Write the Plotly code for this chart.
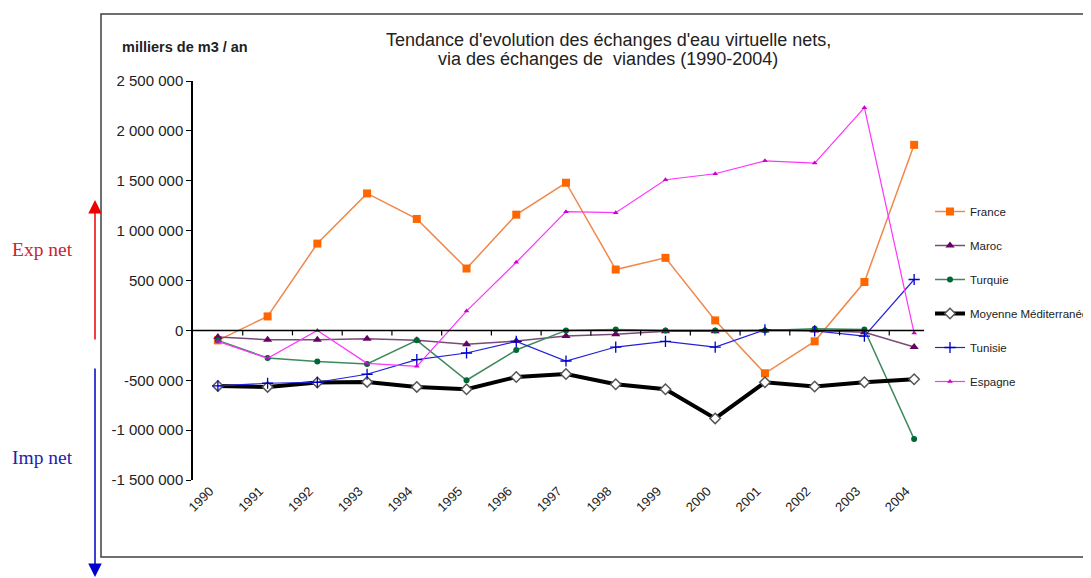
import plotly.graph_objects as go

years = ["1990", "1991", "1992", "1993", "1994", "1995", "1996", "1997",
         "1998", "1999", "2000", "2001", "2002", "2003", "2004"]

france = [-100000, 140000, 870000, 1373000, 1117000, 620000, 1160000, 1480000,
          610000, 727000, 100000, -430000, -110000, 485000, 1860000]
maroc = [-67000, -93000, -93000, -83000, -100000, -140000, -107000, -57000,
         -40000, -10000, -10000, 0, 0, -20000, -167000]
turquie = [-100000, -277000, -313000, -337000, -100000, -500000, -197000, 0,
           10000, 0, 0, 0, 17000, 10000, -1090000]
moyenne = [-557000, -567000, -523000, -517000, -567000, -590000, -467000, -437000,
           -540000, -590000, -883000, -520000, -563000, -520000, -490000]
tunisie = [-557000, -530000, -520000, -440000, -293000, -227000, -110000, -307000,
           -167000, -110000, -167000, 5000, -5000, -57000, 510000]
espagne = [-110000, -280000, 0, -330000, -360000, 193000, 683000, 1190000,
           1180000, 1510000, 1570000, 1700000, 1677000, 2233000, -27000]

ytick_vals = [2500000, 2000000, 1500000, 1000000, 500000, 0, -500000, -1000000, -1500000]
ytick_text = ["2 500 000", "2 000 000", "1 500 000", "1 000 000", "500 000", "0",
              "-500 000", "-1 000 000", "-1 500 000"]

W, H = 1091, 578
OFF = 8  # page body margin of the browser
# plot area in screen pixels (as in the reference)
SL, SR, ST, SB = 193, 939, 81, 480
L, R, T, B = SL - OFF, SR - OFF, ST - OFF, SB - OFF


def px(xs):
    return (xs - OFF - L) / (R - L)


def py(ys):
    return (B - (ys - OFF)) / (B - T)


FONT = "Liberation Sans, Arial, sans-serif"
SERIF = "Liberation Serif, Times New Roman, serif"
xs = list(range(len(years)))

fig = go.Figure()

series = [
    ("France", france, dict(color="#F0884C", width=1.5),
     dict(symbol="square", size=8, color="#FF6600")),
    ("Maroc", maroc, dict(color="#7A4A7A", width=1.5),
     dict(symbol="triangle-up", size=8, color="#660066")),
    ("Turquie", turquie, dict(color="#3D8A5C", width=1.5),
     dict(symbol="circle", size=6, color="#006633")),
    ("Moyenne Méditerranée", moyenne, dict(color="#000000", width=4),
     dict(symbol="diamond", size=8, color="#FFFFFF", line=dict(color="#555555", width=1.5))),
    ("Tunisie", tunisie, dict(color="#2222DD", width=1.2),
     dict(symbol="cross-thin", size=8, color="#0000CC", line=dict(color="#0000CC", width=1.3))),
    ("Espagne", espagne, dict(color="#FF33FF", width=1.2),
     dict(symbol="triangle-up", size=5, color="#CC00CC")),
]

for i, (name, vals, line, marker) in enumerate(series):
    fig.add_trace(go.Scatter(
        x=xs, y=vals, name=name, mode="lines+markers",
        line=line, marker=marker, legendgroup=str(i), cliponaxis=False,
    ))

shapes = []
# frame
shapes.append(dict(type="rect", xref="paper", yref="paper",
                   x0=px(101), x1=px(1110), y0=py(557), y1=py(14),
                   line=dict(color="#404040", width=1.5), layer="below"))
# zero category axis
shapes.append(dict(type="line", xref="x", yref="y", x0=-0.5, x1=14.2, y0=0, y1=0,
                   line=dict(color="#000000", width=1.5)))
for k in range(1, 15):
    shapes.append(dict(type="line", xref="x", yref="y", ysizemode="pixel", yanchor=0,
                       x0=k - 0.5, x1=k - 0.5, y0=0, y1=-5,
                       line=dict(color="#000000", width=1.2)))

annotations = [
    dict(text="Tendance d'evolution des échanges d'eau virtuelle nets,",
         xref="paper", yref="paper", x=px(608), y=py(40), showarrow=False,
         xanchor="center", yanchor="middle",
         font=dict(family=FONT, size=18, color="#222222")),
    dict(text="via des échanges de  viandes (1990-2004)",
         xref="paper", yref="paper", x=px(608), y=py(59), showarrow=False,
         xanchor="center", yanchor="middle",
         font=dict(family=FONT, size=18, color="#222222")),
    dict(text="<b>milliers de m3 / an</b>",
         xref="paper", yref="paper", x=px(120), y=py(47), showarrow=False,
         xanchor="left", yanchor="middle",
         font=dict(family=FONT, size=14.5, color="#222222")),
    dict(text="Exp net", xref="paper", yref="paper", x=px(10), y=py(249),
         showarrow=False, xanchor="left", yanchor="middle",
         font=dict(family=SERIF, size=19.5, color="#CC2233")),
    dict(text="Imp net", xref="paper", yref="paper", x=px(10), y=py(457),
         showarrow=False, xanchor="left", yanchor="middle",
         font=dict(family=SERIF, size=19.5, color="#2222AA")),
    dict(text="", xref="paper", yref="paper", x=px(95), y=py(200),
         ax=0, ay=141, showarrow=True, arrowhead=2, arrowsize=1.8,
         arrowwidth=1.5, arrowcolor="#EE0000"),
    dict(text="", xref="paper", yref="paper", x=px(95), y=py(577),
         ax=0, ay=-210, showarrow=True, arrowhead=2, arrowsize=1.8,
         arrowwidth=1.5, arrowcolor="#0000CC"),
]

fig.update_layout(
    width=W, height=H,
    margin=dict(l=L, r=W - R, t=T, b=H - B, pad=0, autoexpand=False),
    paper_bgcolor="white", plot_bgcolor="white",
    font=dict(family=FONT, color="#222222"),
    showlegend=True,
    legend=dict(xref="paper", yref="paper", x=px(930), y=py(197),
                xanchor="left", yanchor="top", tracegroupgap=15,
                itemwidth=30, font=dict(family=FONT, size=11.5, color="#222222"),
                bgcolor="rgba(0,0,0,0)"),
    xaxis=dict(range=[-0.5, 14.5], tickmode="array", tickvals=xs, ticktext=years,
               tickangle=-45, showline=False, showgrid=False, zeroline=False,
               ticks="", ticklabelshift=-8,
               tickfont=dict(family=FONT, size=13, color="#222222")),
    yaxis=dict(range=[-1500000, 2500000], tickmode="array", tickvals=ytick_vals,
               ticktext=ytick_text, showline=True, linecolor="#000000", linewidth=1.5,
               ticks="outside", ticklen=5, tickcolor="#000000", showgrid=False,
               zeroline=False, tickfont=dict(family=FONT, size=15, color="#222222")),
    shapes=shapes,
    annotations=annotations,
)

fig.write_html("out.html")
